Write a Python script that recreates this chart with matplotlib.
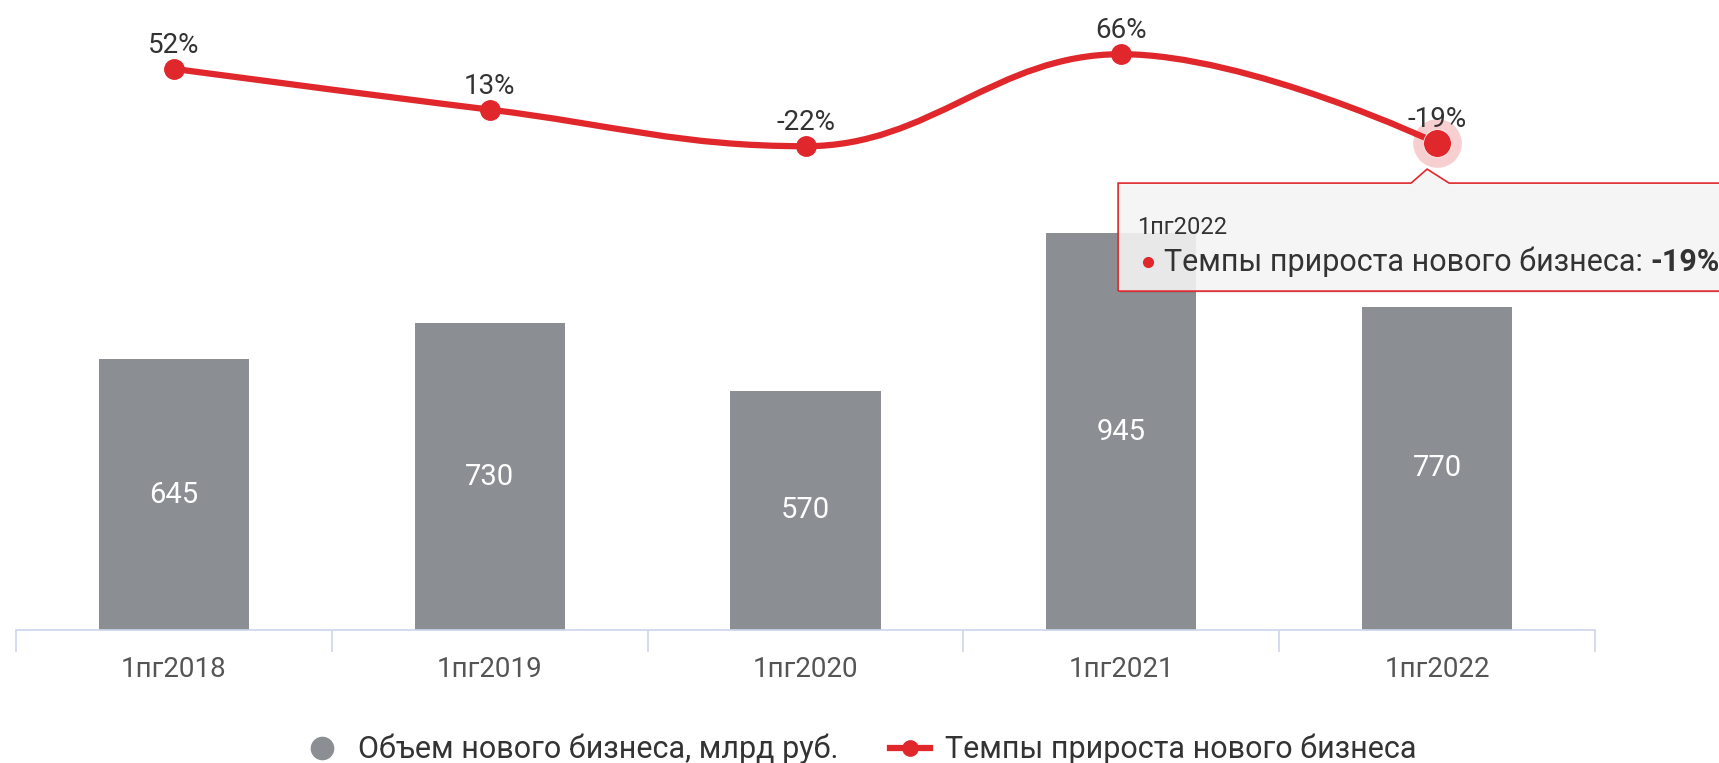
import matplotlib.pyplot as plt
import matplotlib.transforms as mtransforms
import numpy as np
from matplotlib.path import Path
from matplotlib.patches import PathPatch, Polygon
from matplotlib.lines import Line2D

plt.rcParams['font.family'] = ['Roboto', 'DejaVu Sans']

periods = ['1пг2018', '1пг2019', '1пг2020', '1пг2021', '1пг2022']
volume = [645, 730, 570, 945, 770]
growth = [52, 13, -22, 66, -19]

barName = 'Объем нового бизнеса, млрд руб.'
lineName = 'Темпы прироста нового бизнеса'

barColor = '#8b8f93'
red = '#e0272c'
axisColor = '#ccd6eb'
textColor = '#333333'


def splinePath(xs, ys, smoothing=1.5):
    # same smoothing as highcharts "spline" series
    denom = smoothing + 1
    n = len(xs)
    left = [None] * n
    right = [None] * n
    for i in range(1, n - 1):
        lastX, lastY = xs[i - 1], ys[i - 1]
        nextX, nextY = xs[i + 1], ys[i + 1]
        px, py = xs[i], ys[i]
        lx = (smoothing * px + lastX) / denom
        ly = (smoothing * py + lastY) / denom
        rx = (smoothing * px + nextX) / denom
        ry = (smoothing * py + nextY) / denom
        corr = 0
        if rx != lx:
            corr = (ry - ly) * (rx - px) / (rx - lx) + py - ry
        ly += corr
        ry += corr
        if ly > lastY and ly > py:
            ly = max(lastY, py)
            ry = 2 * py - ly
        elif ly < lastY and ly < py:
            ly = min(lastY, py)
            ry = 2 * py - ly
        if ry > nextY and ry > py:
            ry = max(nextY, py)
            ly = 2 * py - ry
        elif ry < nextY and ry < py:
            ry = min(nextY, py)
            ly = 2 * py - ry
        left[i] = (lx, ly)
        right[i] = (rx, ry)
    verts = [(xs[0], ys[0])]
    codes = [Path.MOVETO]
    for i in range(1, n):
        c1 = right[i - 1] or (xs[i - 1], ys[i - 1])
        c2 = left[i] or (xs[i], ys[i])
        verts += [c1, c2, (xs[i], ys[i])]
        codes += [Path.CURVE4] * 3
    return Path(verts, codes)


fig = plt.figure(figsize=(17.19, 7.63), dpi=100)
ax = fig.add_axes([16 / 1719, 133 / 763, 1579 / 1719, 630 / 763])
x = np.arange(len(periods))

ax.bar(x, volume, width=0.475, color=barColor, zorder=2)
for xi, v in zip(x, volume):
    ax.text(xi, v / 2, str(v), ha='center', va='center', color='white', fontsize=21, zorder=3)

ax.set_xlim(-0.5, len(periods) - 0.5)
ax.set_ylim(0, 1500)
ax.set_yticks([])
for s in ['top', 'left', 'right']:
    ax.spines[s].set_visible(False)
ax.spines['bottom'].set_color(axisColor)
ax.spines['bottom'].set_linewidth(1.2)
ax.set_xticks(x, periods)
ax.set_xticks(np.arange(len(periods) + 1) - 0.5, minor=True)
ax.tick_params(axis='x', which='major', length=0, pad=19, labelsize=20, labelcolor='#555555')
ax.tick_params(axis='x', which='minor', length=16, width=1.2, color=axisColor)

ax2 = ax.twinx()
ax2.set_ylim(-484.5, 117.8)
ax2.set_axis_off()
ax2.add_patch(PathPatch(splinePath(list(x), growth), fill=False, edgecolor=red, lw=4.5,
                        capstyle='round', joinstyle='round', zorder=3))
ax2.plot(x[:-1], growth[:-1], 'o', color=red, ms=14, zorder=4)
# hovered point
ax2.plot(x[-1], growth[-1], 'o', color=red, ms=35, alpha=0.22, mec='none', zorder=4)
ax2.plot(x[-1], growth[-1], 'o', color=red, ms=20, mec='white', mew=0.5, zorder=5)
for xi, g in zip(x, growth):
    ax2.annotate(f'{g}%', (xi, g), xytext=(0, 17), textcoords='offset points',
                 ha='center', va='center', fontsize=20, color=textColor, zorder=6)

fig.legend(handles=[Line2D([], [], marker='o', ls='none', color=barColor, ms=16),
                    Line2D([], [], color=red, lw=4.5, marker='o', ms=11)],
           labels=[barName, lineName], loc='center', bbox_to_anchor=(0.5, 14 / 763),
           ncol=2, frameon=False, fontsize=22, handlelength=1.3, handletextpad=0.5,
           columnspacing=1.7, labelcolor=textColor)

# tooltip over the last point
ident = mtransforms.IdentityTransform()
px, py = ax2.transData.transform((x[-1], growth[-1]))
top = py - 40
bottom = py - 148
tip = [(px - 319, bottom), (px - 319, top), (px - 26, top), (px - 10, py - 26),
       (px + 12, top), (px + 340, top), (px + 340, bottom)]
shadow = [(a + 2, b - 2) for a, b in tip]
fig.add_artist(Polygon(shadow, closed=True, facecolor='black', alpha=0.08, edgecolor='none',
                       transform=ident, zorder=7))
fig.add_artist(Polygon(tip, closed=True, facecolor='#f7f7f7', alpha=0.88, edgecolor='none',
                       transform=ident, zorder=8))
fig.add_artist(Polygon(tip, closed=True, fill=False, edgecolor=red, lw=1.2,
                       transform=ident, zorder=9))
fig.text(px - 300, py - 84, periods[-1], va='center', fontsize=17, color=textColor,
         transform=ident, zorder=10)
fig.add_artist(Line2D([px - 289], [py - 119], marker='o', ms=7, color=red, transform=ident, zorder=10))
t = fig.text(px - 273, py - 119, lineName + ': ', va='center', fontsize=22, color=textColor,
             transform=ident, zorder=10)
bb = t.get_window_extent(fig.canvas.get_renderer())
fig.text(bb.x1, py - 119, f'{growth[-1]}%', va='center', fontsize=22, fontweight='bold',
         color=textColor, transform=ident, zorder=10)

plt.savefig('out.png', dpi=100)
